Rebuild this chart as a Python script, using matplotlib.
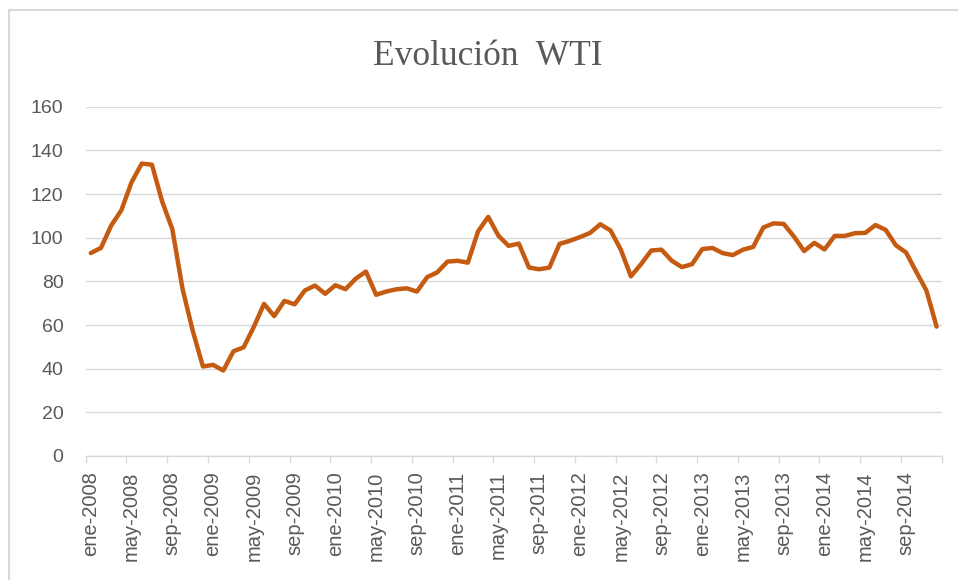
"""
Evolucion WTI - monthly average price, Jan 2008 to Dec 2014.
Excel-style line chart.
"""

import matplotlib
matplotlib.use('Agg')
import matplotlib.pyplot as plt
import matplotlib.patches as mpatches
import numpy as np

# Month abbreviations (Spanish) and years
month_names = ['ene', 'feb', 'mar', 'abr', 'may', 'jun',
               'jul', 'ago', 'sep', 'oct', 'nov', 'dic']
years = [2008, 2009, 2010, 2011, 2012, 2013, 2014]
categories = [f'{m}-{y}' for y in years for m in month_names]

# WTI monthly values
wti = [
    92.95, 95.35, 105.56, 112.57, 125.39, 133.93, 133.44, 116.61, 103.90, 76.65, 57.44, 41.02,
    41.74, 39.16, 47.98, 49.79, 59.16, 69.68, 64.09, 71.06, 69.46, 75.82, 78.08, 74.30,
    78.22, 76.42, 81.24, 84.48, 73.84, 75.35, 76.37, 76.82, 75.31, 81.90, 84.14, 89.04,
    89.42, 88.58, 102.86, 109.53, 100.90, 96.26, 97.30, 86.33, 85.52, 86.32, 97.16, 98.56,
    100.27, 102.20, 106.16, 103.32, 94.66, 82.30, 87.90, 94.13, 94.51, 89.49, 86.53, 87.86,
    94.76, 95.31, 92.94, 92.02, 94.51, 95.77, 104.67, 106.57, 106.29, 100.54, 93.86, 97.63,
    94.62, 100.82, 100.80, 102.07, 102.18, 105.79, 103.59, 96.54, 93.21, 84.40, 75.79, 59.29,
]

y_ticks = [0, 20, 40, 60, 80, 100, 120, 140, 160]

text_color = '#595959'
grid_color = '#D9D9D9'
line_color = '#C55A11'

fig = plt.figure(figsize=(9.58, 5.80), dpi=100)
fig.patch.set_facecolor('white')

# Chart area border (cut off at right and bottom like the screenshot)
border = mpatches.Rectangle((9 / 958, -0.05), 1.1, 0.05 + 570 / 580,
                            transform=fig.transFigure, fill=False,
                            edgecolor=grid_color, linewidth=1.5, clip_on=False)
fig.patches.append(border)

ax = fig.add_axes([85.7 / 958, 124 / 580, 856 / 958, 349.3 / 580])

x = np.arange(len(wti))
ax.plot(x, wti, color=line_color, linewidth=3.2, solid_joinstyle='round',
        solid_capstyle='round', zorder=3)

ax.set_xlim(-0.5, len(wti) - 0.5)
ax.set_ylim(0, 160)

# Y axis
ax.set_yticks(y_ticks)
ax.set_yticklabels([str(v) for v in y_ticks], fontsize=14, color=text_color,
                   family='Liberation Sans')
ax.tick_params(axis='y', length=0, pad=16)
ax.grid(axis='y', color=grid_color, linewidth=1.0, zorder=0)

# X axis: labels every 4 months at category centres, tick marks at boundaries
ax.set_xticks(x[::4])
ax.set_xticklabels(categories[::4], rotation=90, fontsize=14.5, color=text_color,
                   family='Liberation Sans')
ax.set_xticks(np.arange(-0.5, len(wti), 4), minor=True)
ax.tick_params(axis='x', which='major', length=0, pad=11)
ax.tick_params(axis='x', which='minor', length=5, width=1, color=grid_color)

for side in ['top', 'right', 'left']:
    ax.spines[side].set_visible(False)
ax.spines['bottom'].set_color(grid_color)
ax.spines['bottom'].set_linewidth(1.0)

# Title
fig.text(488 / 958, (580 - 65) / 580, 'Evolución  WTI', fontsize=25.5,
         family='Liberation Serif', color=text_color, ha='center', va='baseline')

plt.savefig('out.png', dpi=100, facecolor='white')
plt.close()
